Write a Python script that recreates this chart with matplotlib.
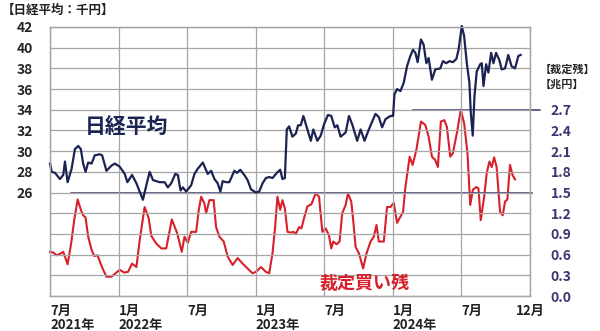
import matplotlib
matplotlib.use("Agg")
import matplotlib.pyplot as plt

plt.rcParams['font.family'] = ['Noto Sans CJK JP', 'DejaVu Sans']

# months since 2021-07 and values
nikkei_t = [0.00, 0.15, 0.44, 0.87, 1.16, 1.31, 1.54, 1.89, 2.18, 2.47,
            2.70, 2.90, 3.11, 3.34, 3.64, 3.92, 4.36, 4.56, 4.94, 5.38,
            5.67, 6.10, 6.54, 6.77, 7.18, 7.56, 7.85, 8.13, 8.43, 8.72,
            9.01, 9.30, 9.59, 10.03, 10.31, 10.61, 10.96, 11.19, 11.42, 11.62,
            11.92, 12.35, 12.64, 12.93, 13.37, 13.80, 14.10, 14.39, 14.67, 14.91,
            15.11, 15.41, 15.69, 16.13, 16.36, 16.65, 17.00, 17.29, 17.59, 18.02,
            18.31, 18.60, 18.89, 19.18, 19.47, 19.85, 20.14, 20.34, 20.55, 20.72,
            20.92, 21.21, 21.51, 21.71, 21.94, 22.17, 22.52, 22.82, 23.04, 23.39,
            23.69, 23.98, 24.32, 24.61, 24.91, 25.14, 25.43, 25.87, 26.16, 26.44,
            26.88, 27.18, 27.52, 27.90, 28.48, 28.77, 29.06, 29.36, 29.79, 30.02,
            30.14, 30.37, 30.66, 30.95, 31.24, 31.53, 31.76, 31.97, 32.17, 32.46,
            32.69, 32.93, 33.13, 33.42, 33.71, 34.15, 34.38, 34.67, 34.96, 35.25,
            35.55, 35.75, 36.03, 36.24, 36.47, 36.70, 36.82, 36.99, 37.14, 37.34,
            37.64, 37.78, 37.93, 38.16, 38.36, 38.60, 38.80, 39.03, 39.32, 39.52,
            39.82, 40.10, 40.39, 40.69, 40.98, 41.18]
nikkei = [28.8, 28.0, 27.9, 27.3, 27.7, 29.0, 27.0, 28.3, 30.2, 30.5,
          30.2, 28.8, 28.0, 28.9, 28.8, 29.6, 29.7, 29.6, 28.1, 28.6,
          28.8, 28.5, 27.8, 27.0, 27.7, 26.9, 26.1, 25.3, 26.7, 28.0,
          27.2, 27.1, 27.0, 27.0, 26.5, 26.9, 27.8, 27.7, 26.2, 26.5,
          26.1, 26.7, 27.8, 28.3, 28.9, 27.8, 28.1, 27.3, 26.9, 26.1,
          27.1, 27.0, 27.0, 28.1, 27.9, 28.2, 27.7, 27.2, 26.3, 26.0,
          26.1, 26.9, 27.4, 27.5, 27.4, 27.9, 28.2, 27.3, 27.4, 32.1,
          32.4, 31.4, 31.7, 32.5, 32.5, 33.4, 32.1, 31.0, 32.1, 31.0,
          31.5, 32.6, 33.5, 33.4, 32.3, 32.5, 31.4, 31.8, 33.4, 32.6,
          31.0, 32.1, 31.0, 32.1, 33.6, 33.3, 32.3, 33.1, 33.4, 33.4,
          35.5, 36.0, 35.8, 36.6, 38.2, 39.2, 39.8, 39.5, 38.6, 40.8,
          40.3, 38.5, 39.0, 36.9, 37.9, 38.0, 38.7, 38.5, 38.7, 38.6,
          38.9, 39.8, 42.1, 41.1, 38.5, 36.6, 33.7, 31.5, 35.3, 37.7,
          38.4, 38.5, 36.3, 38.4, 37.6, 39.5, 38.5, 39.5, 38.8, 37.9,
          38.0, 39.3, 38.2, 38.0, 39.2, 39.3]

arb_t = [0.00, 0.29, 0.58, 0.87, 1.16, 1.54, 1.83, 2.12, 2.42, 2.70,
         2.90, 3.11, 3.34, 3.64, 3.86, 4.16, 4.36, 4.65, 4.94, 5.38,
         5.82, 6.10, 6.48, 6.83, 7.18, 7.56, 7.85, 8.28, 8.63, 8.87,
         9.30, 9.74, 10.17, 10.66, 11.13, 11.53, 11.77, 12.06, 12.35, 12.79,
         13.02, 13.23, 13.51, 13.66, 13.95, 14.32, 14.53, 14.82, 15.20, 15.55,
         15.98, 16.42, 16.85, 17.29, 17.72, 18.02, 18.46, 18.89, 19.18, 19.47,
         19.70, 19.90, 20.14, 20.34, 20.55, 20.78, 21.07, 21.30, 21.51, 21.80,
         22.00, 22.23, 22.52, 22.87, 23.25, 23.54, 23.83, 24.12, 24.41, 24.61,
         24.79, 25.08, 25.34, 25.57, 25.87, 26.07, 26.36, 26.53, 26.74, 27.03,
         27.40, 27.70, 28.05, 28.33, 28.57, 28.77, 29.21, 29.49, 29.79, 30.08,
         30.37, 30.66, 30.89, 31.10, 31.47, 31.73, 32.06, 32.46, 32.84, 33.13,
         33.42, 33.71, 33.94, 34.20, 34.50, 34.73, 35.02, 35.25, 35.60, 35.95,
         36.24, 36.53, 36.77, 37.00, 37.29, 37.49, 37.69, 37.99, 38.21, 38.45,
         38.65, 38.86, 39.08, 39.38, 39.61, 39.82, 40.02, 40.25, 40.48, 40.69]
arb = [0.64, 0.63, 0.59, 0.61, 0.64, 0.46, 0.74, 1.10, 1.40, 1.25,
       1.17, 1.14, 0.86, 0.67, 0.58, 0.59, 0.50, 0.38, 0.28, 0.28,
       0.34, 0.38, 0.34, 0.35, 0.47, 0.42, 0.81, 1.29, 1.13, 0.87,
       0.76, 0.69, 0.69, 1.11, 0.91, 0.64, 0.86, 0.77, 0.93, 0.93,
       1.25, 1.44, 1.34, 1.20, 1.39, 1.39, 1.00, 0.86, 0.79, 0.57,
       0.45, 0.55, 0.47, 0.40, 0.33, 0.35, 0.42, 0.35, 0.33, 0.62,
       1.00, 1.44, 1.25, 1.39, 1.27, 0.93, 0.92, 0.93, 0.90, 1.00,
       0.98, 1.13, 1.30, 1.33, 1.49, 1.44, 0.93, 0.98, 0.88, 0.69,
       0.79, 0.75, 0.79, 1.20, 1.32, 1.49, 1.37, 1.10, 0.71, 0.62,
       0.40, 0.62, 0.79, 0.86, 1.03, 0.79, 0.79, 1.29, 1.29, 1.35,
       1.06, 1.15, 1.22, 1.58, 2.02, 1.90, 2.12, 2.53, 2.48, 2.31,
       2.02, 1.97, 1.87, 2.53, 2.55, 2.45, 2.02, 2.07, 2.36, 2.70,
       2.50, 2.07, 1.32, 1.54, 1.58, 1.56, 1.10, 1.44, 1.78, 1.95,
       1.87, 2.01, 1.87, 1.22, 1.17, 1.37, 1.40, 1.90, 1.75, 1.69]

# horizontal reference lines on the right axis
ref_levels = [1.5, 2.7]
ref_from = [1.8, 31.8]
ref_to = [42.2, 42.9]

x_ticks = [0, 6, 12, 18, 24, 30, 36, 42]
x_labels = ["7月\n2021年", "1月\n2022年", "7月", "1月\n2023年", "7月",
            "1月\n2024年", "7月", "12月"]
left_ticks = list(range(16, 43, 2))
right_ticks = [0.0, 0.3, 0.6, 0.9, 1.2, 1.5, 1.8, 2.1, 2.4, 2.7]

navy = "#1b2352"
red = "#d8202a"
purple = "#3a3672"
grid = "#a6a6a6"

fig = plt.figure(figsize=(6.0, 3.31), dpi=100)
ax = fig.add_axes([50/600, 35/331, 480/600, 269/331])
ax2 = ax.twinx()

ax.set_xlim(0, 42)
ax.set_ylim(16, 42)
ax2.set_ylim(0, 3.9)

ax.set_xticks(x_ticks)
ax.set_xticklabels(x_labels, ha="left", va="top", fontsize=9.5,
                   fontweight="bold", color="#222222", linespacing=1.0)
ax.get_xticklabels()[-1].set_ha("center")
ax.set_yticks(left_ticks)
ax.set_yticklabels([str(v) if v >= 26 else "" for v in left_ticks],
                   fontsize=10, fontweight="bold", color="#262626")
ax.tick_params(axis="both", length=0)
ax.tick_params(axis="y", pad=12)
ax.tick_params(axis="x", pad=6)

ax2.set_yticks(right_ticks)
ax2.set_yticklabels([f"{v:.1f}" for v in right_ticks], fontsize=10,
                    fontweight="bold", color=purple)
ax2.tick_params(axis="y", length=0, pad=15)

ax.grid(True, color=grid, linewidth=0.9)
for a in (ax, ax2):
    for s in a.spines.values():
        s.set_color(grid)
        s.set_linewidth(0.9)

ax2.plot(arb_t, arb, color=red, linewidth=1.5, clip_on=False)
for lvl, x0, x1 in zip(ref_levels, ref_from, ref_to):
    ax2.plot([x0, x1], [lvl, lvl], color=purple, linewidth=1.1, clip_on=False)

ax.set_zorder(ax2.get_zorder() + 1)
ax.patch.set_visible(False)
ax.plot(nikkei_t, nikkei, color=navy, linewidth=1.6, clip_on=False)

fig.text(2/600, 1 - 10/331, "【日経平均：千円】", fontsize=9, fontweight="bold",
         color="#222222", ha="left", va="center")
fig.text(540/600, 1 - 69/331, "【裁定残】", fontsize=8, fontweight="bold",
         color="#262626", ha="left", va="center")
fig.text(540/600, 1 - 84/331, "【兆円】", fontsize=8, fontweight="bold",
         color="#262626", ha="left", va="center")
fig.text(127/600, 1 - 127/331, "日経平均", fontsize=15, fontweight="bold",
         color=navy, ha="center", va="center")
fig.text(365/600, 1 - 283/331, "裁定買い残", fontsize=13, fontweight="bold",
         color=red, ha="center", va="center")

fig.savefig("out.png", dpi=100)
